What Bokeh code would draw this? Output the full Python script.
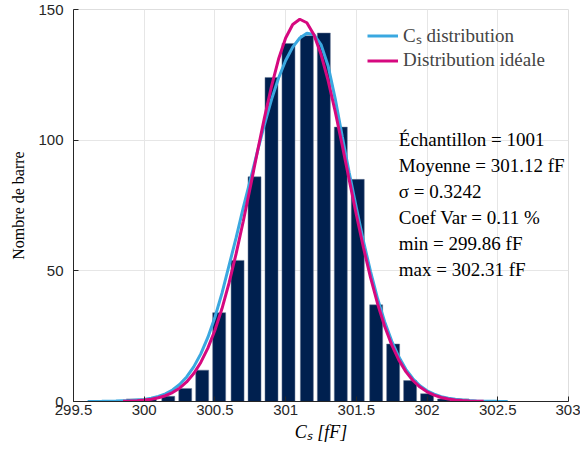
from bokeh.plotting import figure
from bokeh.models import FixedTicker, Legend
from bokeh.embed import file_html
from bokeh.resources import INLINE
from bokeh.core.properties import value

# ---- data ----
bin_centers = [299.92, 300.04, 300.17, 300.29, 300.41, 300.53, 300.66, 300.78, 300.90, 301.02,
               301.15, 301.27, 301.39, 301.51, 301.64, 301.76, 301.88, 302.00, 302.12, 302.25]
bin_counts = [1, 1, 2, 5, 12, 34, 54, 86, 124, 137,
              140, 141, 105, 85, 37, 22, 8, 3, 1, 1]

cs_x = [299.60, 299.70, 299.80, 299.90, 300.00, 300.05, 300.10, 300.15, 300.20, 300.25,
        300.30, 300.35, 300.40, 300.45, 300.50, 300.55, 300.60, 300.65, 300.70, 300.75,
        300.80, 300.85, 300.90, 300.95, 301.00, 301.05, 301.10, 301.15, 301.20, 301.25,
        301.30, 301.35, 301.40, 301.45, 301.50, 301.55, 301.60, 301.65, 301.70, 301.75,
        301.80, 301.85, 301.90, 301.95, 302.00, 302.05, 302.10, 302.15, 302.20, 302.25,
        302.30, 302.35, 302.40, 302.45, 302.50, 302.57]
cs_y = [0.03, 0.08, 0.18, 0.35, 0.80, 1.25, 1.95, 2.95, 4.42, 6.52,
        9.40, 13.24, 18.22, 24.52, 32.25, 41.45, 52.08, 62.70, 74.10, 84.70,
        95.50, 106.00, 115.50, 123.80, 130.50, 135.60, 139.10, 140.90, 140.40, 136.60,
        128.50, 116.00, 101.50, 87.40, 74.10, 61.40, 49.80, 39.40, 30.50, 23.10,
        17.10, 12.30, 8.70, 6.00, 4.10, 2.80, 1.85, 1.25, 0.85, 0.55,
        0.35, 0.22, 0.14, 0.08, 0.05, 0.02]

ideal_x = [299.85, 299.90, 299.95, 300.00, 300.05, 300.10, 300.15, 300.20, 300.25, 300.30,
           300.35, 300.40, 300.45, 300.50, 300.55, 300.60, 300.65, 300.70, 300.75, 300.80,
           300.85, 300.90, 300.95, 301.00, 301.05, 301.10, 301.15, 301.20, 301.25, 301.30,
           301.35, 301.40, 301.45, 301.50, 301.55, 301.60, 301.65, 301.70, 301.75, 301.80,
           301.85, 301.90, 301.95, 302.00, 302.05, 302.10, 302.15, 302.20, 302.25, 302.30,
           302.35, 302.40]
ideal_y = [0.11, 0.19, 0.32, 0.54, 0.88, 1.42, 2.22, 3.41, 5.10, 7.47,
           10.68, 14.94, 20.41, 27.26, 35.57, 45.37, 56.56, 68.89, 82.03, 95.45,
           108.54, 120.62, 131.03, 139.09, 144.28, 146.28, 144.94, 140.36, 132.84, 122.86,
           111.06, 98.11, 84.71, 71.47, 58.93, 47.50, 37.41, 28.79, 21.67, 15.92,
           11.44, 8.03, 5.51, 3.70, 2.42, 1.55, 0.97, 0.59, 0.36, 0.21,
           0.12, 0.07]

x_ticks = [299.5, 300, 300.5, 301, 301.5, 302, 302.5, 303]
x_tick_labels = ["299.5", "300", "300.5", "301", "301.5", "302", "302.5", "303"]
y_ticks = [0, 50, 100, 150]

series_names = ["C\u209b distribution", "Distribution id\u00e9ale"]
stats_lines = ["\u00c9chantillon = 1001", "Moyenne = 301.12 fF", "\u03c3 = 0.3242",
               "Coef Var = 0.11 %", "min = 299.86 fF", "max = 302.31 fF"]

# ---- figure ----
p = figure(width=580, height=448, x_range=(299.5, 303), y_range=(0, 150),
           output_backend="svg", toolbar_location=None,
           min_border_left=73, min_border_right=12, min_border_top=9, min_border_bottom=47)
p.background_fill_color = "white"
p.border_fill_color = "white"
p.outline_line_color = "#dedede"
p.outline_line_width = 1

p.xaxis.ticker = FixedTicker(ticks=x_ticks)
p.yaxis.ticker = FixedTicker(ticks=y_ticks)
p.xaxis.major_label_overrides = {t: l for t, l in zip(x_ticks, x_tick_labels)}
p.xgrid.ticker = FixedTicker(ticks=x_ticks)
p.ygrid.ticker = FixedTicker(ticks=y_ticks)
for g in (p.xgrid, p.ygrid):
    g.grid_line_color = "#e6e6e6"
    g.grid_line_width = 1

for ax in (p.xaxis, p.yaxis):
    ax.axis_line_color = "#262626"
    ax.axis_line_width = 1
    ax.major_tick_line_color = "#262626"
    ax.major_tick_in = 5
    ax.major_tick_out = 0
    ax.minor_tick_line_color = None
    ax.major_label_text_font = "Liberation Sans"
    ax.major_label_text_font_size = "15px"
    ax.major_label_text_color = "#262626"
    ax.axis_label_text_font = "Liberation Serif"
    ax.axis_label_text_color = "black"

p.xaxis.axis_label = "C\u209b [fF]"
p.xaxis.axis_label_text_font_style = "italic"
p.xaxis.axis_label_text_font_size = "18px"
p.xaxis.major_label_standoff = 3
p.xaxis.axis_label_standoff = 4

p.yaxis.axis_label = "Nombre de barre"
p.yaxis.axis_label_text_font_style = "normal"
p.yaxis.axis_label_text_font_size = "16px"
p.yaxis.major_label_standoff = 10
p.yaxis.axis_label_standoff = 8

# bars
p.vbar(x=bin_centers, top=bin_counts, bottom=0, width=0.092,
       fill_color="#00204F", line_color="#6a7a96", line_width=0.5)

# curves
r_cs = p.line(cs_x, cs_y, line_width=3, line_color="#3AA8E0")
r_ideal = p.line(ideal_x, ideal_y, line_width=3, line_color="#D6087F")

legend = Legend(items=[(series_names[0], [r_cs]), (series_names[1], [r_ideal])],
                location=(294, 330))
legend.label_text_font = "Liberation Serif"
legend.label_text_font_size = "19px"
legend.glyph_width = 31
legend.glyph_height = 21
legend.label_height = 21
legend.label_standoff = 5
legend.spacing = 1
legend.padding = 0
legend.margin = 0
legend.border_line_color = None
legend.background_fill_alpha = 0
p.add_layout(legend, "center")

# statistics text block
stat_x = [301.80] * len(stats_lines)
stat_y = [100.1 - 9.9 * i for i in range(len(stats_lines))]
p.text(x=stat_x, y=stat_y, text=stats_lines,
       text_font=value("Liberation Serif"), text_font_size="19px",
       text_baseline="middle", text_align="left", text_color="black")

open("out.html", "w").write(file_html(p, INLINE))
